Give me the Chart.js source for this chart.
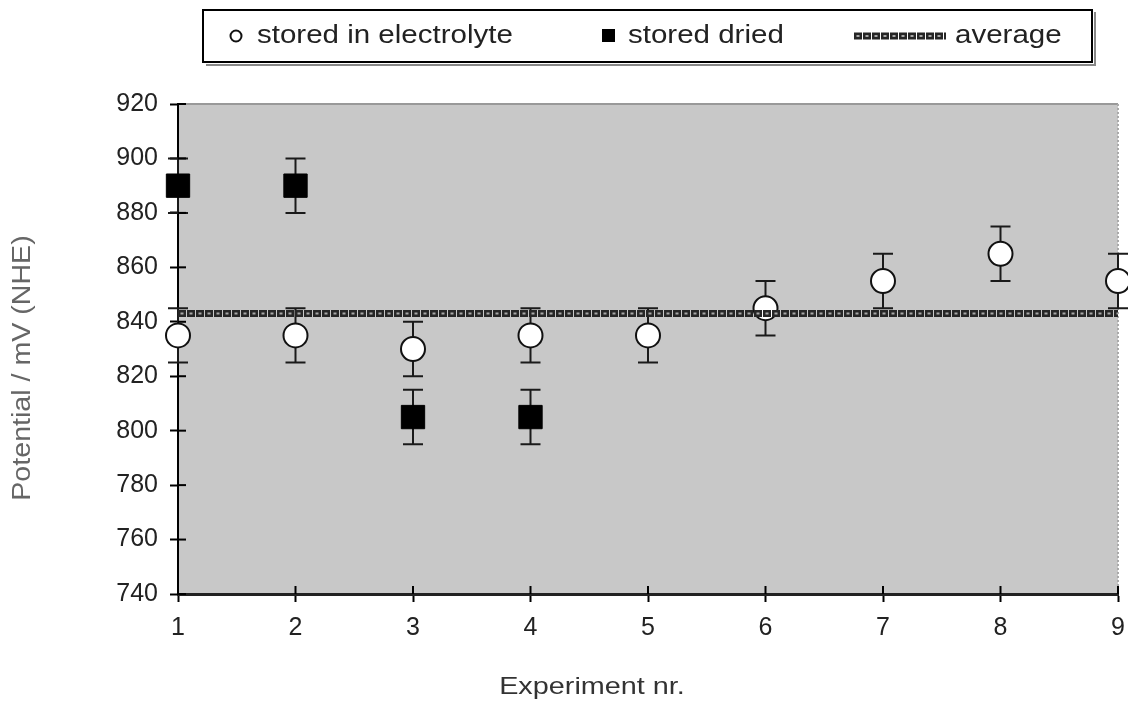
<!DOCTYPE html>
<html>
<head>
<meta charset="utf-8">
<script src="https://cdn.jsdelivr.net/npm/chart.js@4"></script>
<style>
  html, body { margin: 0; padding: 0; background: #fff; }
  #wrap { width: 1128px; height: 702px; }
</style>
</head>
<body>
<div id="wrap"><canvas id="chart"></canvas></div>
<script>
// data
const experiments = [1, 2, 3, 4, 5, 6, 7, 8, 9]
const electrolyteValues = [835, 835, 830, 835, 835, 845, 855, 865, 855]
const electrolyteErrors = [10, 10, 10, 10, 10, 10, 10, 10, 10]
const driedExperiments = [1, 2, 3, 4]
const driedValues = [890, 890, 805, 805]
const driedErrors = [10, 10, 10, 10]
const averageValue = 843
const averageRange = [1, 9]
const yMin = 740, yMax = 920, yStep = 20

const legendLabels = ['stored in electrolyte', 'stored dried', 'average']
const xTitle = 'Experiment nr.'
const yTitle = 'Potential / mV (NHE)'

const FONT = "'Liberation Sans', Arial, sans-serif"
Chart.defaults.font.family = FONT
Chart.defaults.color = '#222'

const electrolytePts = experiments.map((x, i) => ({ x: x, y: electrolyteValues[i] }))
const driedPts = driedExperiments.map((x, i) => ({ x: x, y: driedValues[i] }))
const averagePts = averageRange.map(x => ({ x: x, y: averageValue }))

const errorSets = [
  { xs: experiments, ys: electrolyteValues, errs: electrolyteErrors },
  { xs: driedExperiments, ys: driedValues, errs: driedErrors }
]

const AVG_DARK = '#262626', AVG_LIGHT = '#a8a8a8'

// text that is a bit wider than the font, like the scanned original
function wideText(ctx, txt, x, y, size, stretch, align, color) {
  ctx.save()
  ctx.font = size + 'px ' + FONT
  ctx.fillStyle = color
  ctx.textBaseline = 'middle'
  ctx.textAlign = align
  ctx.translate(x, y)
  ctx.scale(stretch, 1)
  ctx.fillText(txt, 0, 0)
  ctx.restore()
}

function avgStroke(ctx, x0, x1, y) {
  ctx.save()
  ctx.lineWidth = 7
  ctx.strokeStyle = AVG_DARK
  ctx.setLineDash([8, 1])
  ctx.beginPath(); ctx.moveTo(x0, y); ctx.lineTo(x1, y); ctx.stroke()
  ctx.lineWidth = 2
  ctx.strokeStyle = AVG_LIGHT
  ctx.setLineDash([3, 6])
  ctx.lineDashOffset = 6.5
  ctx.beginPath(); ctx.moveTo(x0, y); ctx.lineTo(x1, y); ctx.stroke()
  ctx.restore()
}

// grey plot area, frame, inner tick marks and axis titles
const areaPlugin = {
  id: 'area',
  beforeDraw(chart) {
    const { ctx, chartArea: a } = chart
    ctx.save()
    ctx.fillStyle = '#c8c8c8'
    ctx.fillRect(a.left, a.top, a.right - a.left, a.bottom - a.top)
    ctx.strokeStyle = '#999'
    ctx.lineWidth = 2
    ctx.beginPath()
    ctx.moveTo(a.left, a.top); ctx.lineTo(a.right, a.top)
    ctx.stroke()
    ctx.setLineDash([2, 2])
    ctx.strokeStyle = '#aaa'
    ctx.beginPath()
    ctx.moveTo(a.right, a.top); ctx.lineTo(a.right, a.bottom)
    ctx.stroke()
    ctx.restore()
  },
  afterDraw(chart) {
    const { ctx, chartArea: a, scales } = chart
    ctx.save()
    ctx.strokeStyle = '#000'
    ctx.lineWidth = 2
    scales.y.ticks.forEach(t => {
      const py = scales.y.getPixelForValue(t.value)
      ctx.beginPath(); ctx.moveTo(a.left, py); ctx.lineTo(a.left + 8, py); ctx.stroke()
    })
    scales.x.ticks.forEach(t => {
      const px = scales.x.getPixelForValue(t.value)
      ctx.beginPath(); ctx.moveTo(px, a.bottom); ctx.lineTo(px, a.bottom - 8); ctx.stroke()
    })
    ctx.restore()

    wideText(ctx, xTitle, 592, 687, 24, 1.2, 'center', '#333')
    ctx.save()
    ctx.translate(23, 368)
    ctx.rotate(-Math.PI / 2)
    wideText(ctx, yTitle, 0, 0, 26, 1.1, 'center', '#666')
    ctx.restore()
  }
}

// error bars, drawn under the markers
const errorBarPlugin = {
  id: 'errorBars',
  beforeDatasetsDraw(chart) {
    const { ctx, scales } = chart
    ctx.save()
    ctx.strokeStyle = '#1a1a1a'
    ctx.lineWidth = 2
    errorSets.forEach(s => {
      s.xs.forEach((x, i) => {
        const px = scales.x.getPixelForValue(x)
        const top = scales.y.getPixelForValue(s.ys[i] + s.errs[i])
        const bot = scales.y.getPixelForValue(s.ys[i] - s.errs[i])
        ctx.beginPath()
        ctx.moveTo(px, top); ctx.lineTo(px, bot)
        ctx.moveTo(px - 10, top); ctx.lineTo(px + 10, top)
        ctx.moveTo(px - 10, bot); ctx.lineTo(px + 10, bot)
        ctx.stroke()
      })
    })
    ctx.restore()
  },
  afterDatasetsDraw(chart) {
    // average line as a chain of small rings
    const { ctx, scales } = chart
    const py = scales.y.getPixelForValue(averageValue)
    avgStroke(ctx, scales.x.getPixelForValue(averageRange[0]), scales.x.getPixelForValue(averageRange[1]), py)
  }
}

// boxed legend on top
const boxLegendPlugin = {
  id: 'boxLegend',
  afterDraw(chart) {
    const ctx = chart.ctx
    ctx.save()
    ctx.fillStyle = '#fff'
    ctx.fillRect(203, 10, 889, 52)
    ctx.strokeStyle = '#000'
    ctx.lineWidth = 2
    ctx.strokeRect(203, 10, 889, 52)
    ctx.strokeStyle = '#888'
    ctx.beginPath()
    ctx.moveTo(1095, 12); ctx.lineTo(1095, 65); ctx.lineTo(206, 65)
    ctx.stroke()

    const cy = 36
    ctx.lineWidth = 2
    ctx.strokeStyle = '#111'
    ctx.fillStyle = '#fff'
    ctx.beginPath(); ctx.arc(236, cy, 5.5, 0, Math.PI * 2); ctx.fill(); ctx.stroke()
    ctx.fillStyle = '#000'
    ctx.fillRect(602, cy - 7, 13, 13)
    ctx.restore()
    avgStroke(ctx, 854, 946, cy)

    wideText(ctx, legendLabels[0], 257, cy, 25, 1.18, 'left', '#222')
    wideText(ctx, legendLabels[1], 628, cy, 25, 1.18, 'left', '#222')
    wideText(ctx, legendLabels[2], 955, cy, 25, 1.18, 'left', '#222')
  }
}

const ctx1 = document.getElementById('chart')

new Chart(ctx1, {
  type: 'scatter',
  data: {
    datasets: [
      {
        label: legendLabels[0],
        data: electrolytePts,
        pointStyle: 'circle',
        pointRadius: 12,
        pointBackgroundColor: '#fff',
        pointBorderColor: '#111',
        pointBorderWidth: 2,
        clip: false
      },
      {
        label: legendLabels[1],
        data: driedPts,
        pointStyle: 'rect',
        pointRadius: 16.5,
        pointBackgroundColor: '#000',
        pointBorderColor: '#000',
        pointBorderWidth: 1,
        clip: false
      },
      {
        // average drawn by the plugin (ring pattern); kept here for the data
        type: 'line',
        label: legendLabels[2],
        data: averagePts,
        borderColor: 'rgba(0,0,0,0)',
        borderWidth: 0,
        pointRadius: 0
      }
    ]
  },
  options: {
    responsive: true,
    maintainAspectRatio: false,
    animation: false,
    layout: { autoPadding: false, padding: { top: 104, right: 10, left: 0, bottom: 0 } },
    plugins: {
      legend: { display: false },
      tooltip: { enabled: false }
    },
    scales: {
      x: {
        type: 'linear',
        min: 1,
        max: 9,
        afterFit(scale) { scale.height = 108; scale.paddingRight = 0; scale.paddingLeft = 0 },
        ticks: { stepSize: 1, padding: 11, color: '#222', font: { size: 25 } },
        grid: { drawOnChartArea: false, drawTicks: true, tickLength: 8, tickColor: '#000', tickWidth: 2 },
        border: { color: '#222', width: 3 }
      },
      y: {
        min: yMin,
        max: yMax,
        afterFit(scale) { scale.width = 178 },
        ticks: { stepSize: yStep, padding: 12, color: '#222', font: { size: 25 } },
        grid: { drawOnChartArea: false, drawTicks: true, tickLength: 8, tickColor: '#000', tickWidth: 2 },
        border: { color: '#000', width: 2 }
      }
    }
  },
  plugins: [areaPlugin, errorBarPlugin, boxLegendPlugin]
})
</script>
</body>
</html>
